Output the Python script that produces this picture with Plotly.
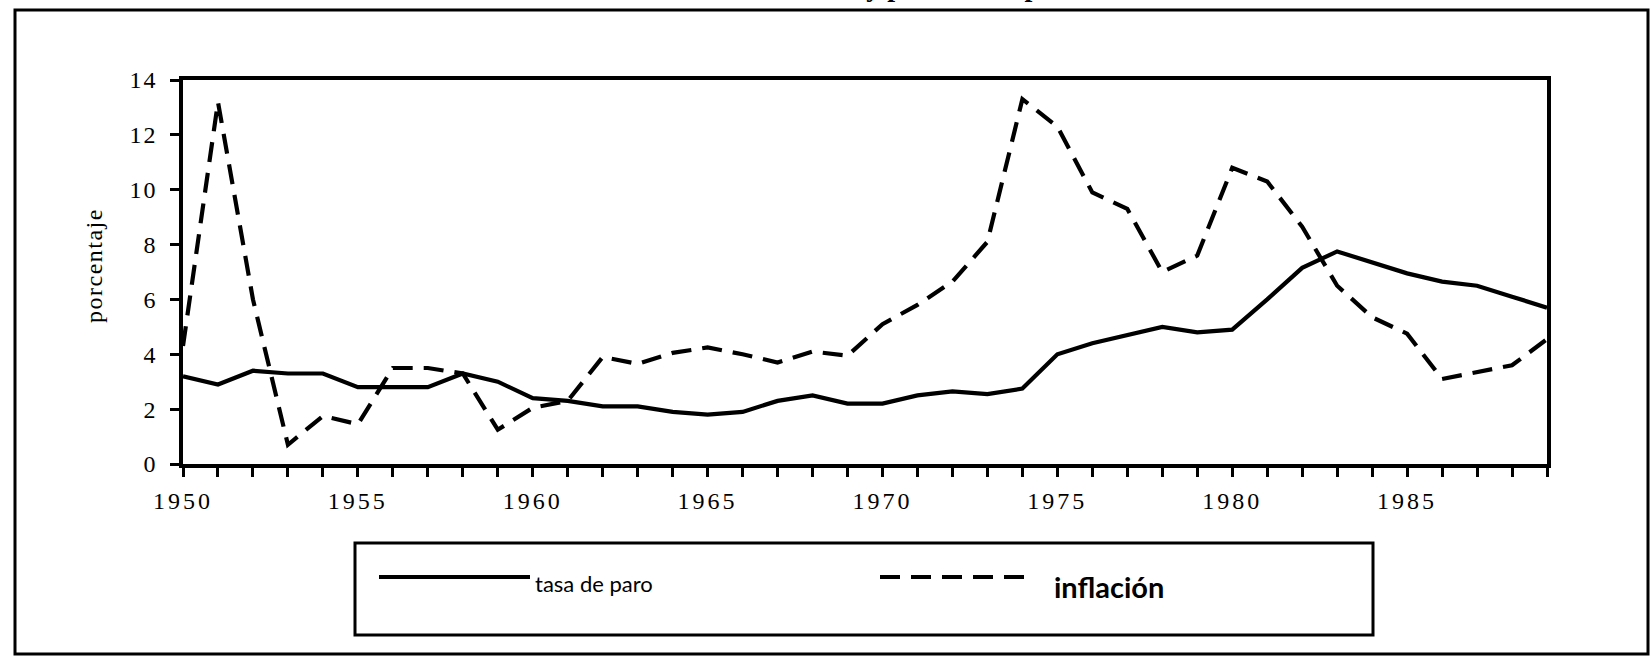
import plotly.graph_objects as go

# Annual series, 1950-1989 (percent)
years = list(range(1950, 1990))
tasa_de_paro = [3.2, 2.9, 3.4, 3.3, 3.3, 2.8, 2.8, 2.8, 3.3, 3.0,
                2.4, 2.3, 2.1, 2.1, 1.9, 1.8, 1.9, 2.3, 2.5, 2.2,
                2.2, 2.5, 2.65, 2.55, 2.75, 4.0, 4.4, 4.7, 5.0, 4.8,
                4.9, 6.0, 7.15, 7.75, 7.35, 6.95, 6.65, 6.5, 6.1, 5.7]
inflacion = [4.3, 13.2, 6.0, 0.7, 1.75, 1.45, 3.5, 3.5, 3.3, 1.25,
             2.05, 2.3, 3.9, 3.65, 4.05, 4.25, 4.0, 3.7, 4.1, 3.95,
             5.1, 5.8, 6.65, 8.1, 13.3, 12.3, 9.9, 9.3, 7.0, 7.6,
             10.8, 10.3, 8.65, 6.5, 5.35, 4.75, 3.1, 3.35, 3.6, 4.55]

x_tick_labels = ["1950", "1955", "1960", "1965", "1970", "1975", "1980", "1985"]
y_tick_values = [0, 2, 4, 6, 8, 10, 12, 14]
y_tick_labels = ["0", "2", "4", "6", "8", "10", "12", "14"]

titulo = "Inflación y paro en los países más desarrollados"
eje_y = "porcentaje"
nombre_paro = "tasa de paro"
nombre_inflacion = "inflación"

# Page and plot-area geometry in pixels
W, H = 1651, 656
L, R, T, B = 183, 1547, 80, 464
PW, PH = R - L, B - T


def px(x):
    return (x - L) / PW


def py(y):
    return (B - y) / PH


def spaced(s, sp=2.5):
    return f'<span style="letter-spacing:{sp}px">{s}</span>'


SERIF = "Liberation Serif, Times New Roman, serif"
DASH = "20px,11px"

# every year gets a tick; only multiples of five carry a label
lab = {int(t): t for t in x_tick_labels}
x_ticktext = [spaced(lab[y], 3) if y in lab else "" for y in years]

fig = go.Figure()
fig.add_trace(go.Scatter(x=years, y=tasa_de_paro, mode="lines", name=nombre_paro,
                         line=dict(color="black", width=4.2), showlegend=False))
fig.add_trace(go.Scatter(x=years, y=inflacion, mode="lines", name=nombre_inflacion,
                         line=dict(color="black", width=4.2, dash=DASH), showlegend=False))

axis_common = dict(showgrid=False, zeroline=False, showline=True, linecolor="black",
                   linewidth=3.5, mirror=True, ticks="outside", tickcolor="black",
                   tickwidth=3, ticklen=9,
                   tickfont=dict(family=SERIF, size=24, color="black"))

fig.update_xaxes(range=[1950, 1989], tickmode="array", tickvals=years,
                 ticktext=x_ticktext, ticklabelstandoff=3, **axis_common)
fig.update_yaxes(range=[0, 14], tickmode="array", tickvals=y_tick_values,
                 ticktext=[spaced(t, 2) for t in y_tick_labels], ticklabelstandoff=8,
                 **axis_common)

shapes = [
    # outer frame
    dict(type="rect", xref="paper", yref="paper", x0=px(15), x1=px(1648),
         y0=py(654), y1=py(10), line=dict(color="black", width=3)),
    # legend box
    dict(type="rect", xref="paper", yref="paper", x0=px(355), x1=px(1373),
         y0=py(635), y1=py(543), line=dict(color="black", width=3)),
    # legend samples
    dict(type="line", xref="paper", yref="paper", x0=px(379), x1=px(530),
         y0=py(577), y1=py(577), line=dict(color="black", width=4)),
    dict(type="line", xref="paper", yref="paper", x0=px(880), x1=px(1027),
         y0=py(577), y1=py(577), line=dict(color="black", width=4, dash=DASH)),
]

annotations = [
    # heading sits mostly above the top edge of the page
    dict(text=f"<b>{titulo}</b>", xref="paper", yref="paper", x=px(1322), y=py(4),
         xanchor="right", yanchor="bottom", showarrow=False,
         font=dict(family=SERIF, size=28, color="black")),
    dict(text=spaced(eje_y, 1.5), xref="paper", yref="paper", x=px(94), y=py(266),
         xanchor="center", yanchor="middle", textangle=-90, showarrow=False,
         font=dict(family=SERIF, size=24, color="black")),
    dict(text=nombre_paro, xref="paper", yref="paper", x=px(533), y=py(583),
         xanchor="left", yanchor="middle", showarrow=False,
         font=dict(family="Lato, sans-serif", size=22, color="black")),
    dict(text=f"<b>{nombre_inflacion}</b>", xref="paper", yref="paper", x=px(1052),
         y=py(586), xanchor="left", yanchor="middle", showarrow=False,
         font=dict(family="Lato, sans-serif", size=29, color="black")),
]

fig.update_layout(width=W, height=H, margin=dict(l=L, r=W - R, t=T, b=H - B),
                  paper_bgcolor="white", plot_bgcolor="white",
                  shapes=shapes, annotations=annotations, showlegend=False)

fig.write_html("out.html")
